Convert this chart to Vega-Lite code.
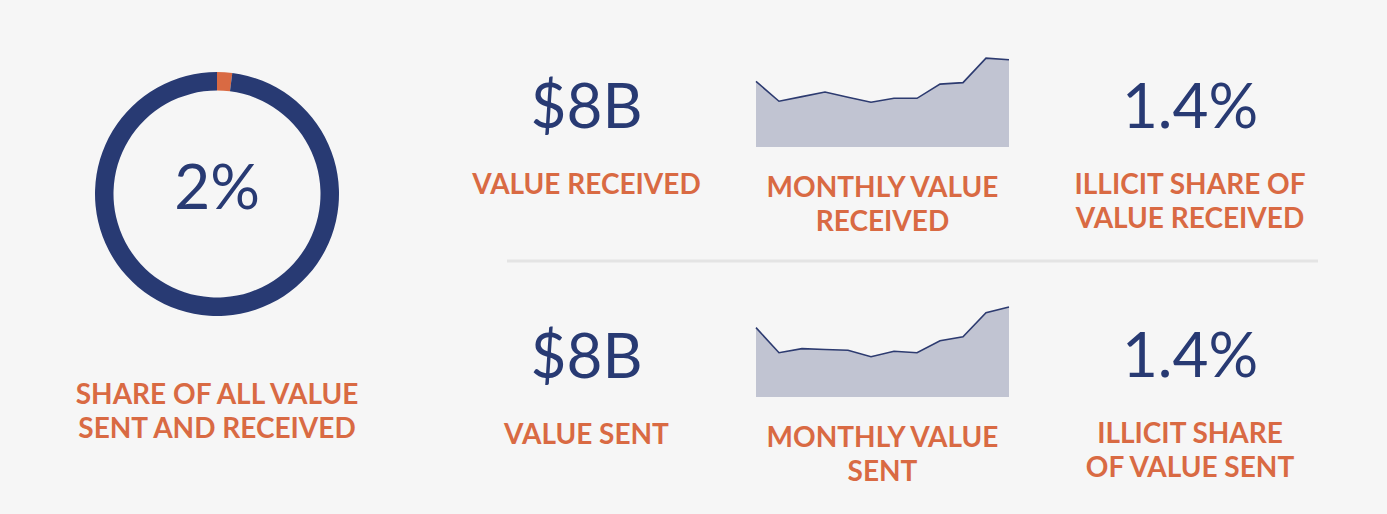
{
  "$schema": "https://vega.github.io/schema/vega-lite/v6.json",
  "background": "#f6f6f6",
  "padding": {"left": 67, "top": 54, "right": 68, "bottom": 34},
  "spacing": 102,
  "config": {
    "view": {"stroke": null},
    "title": {"font": "Lato", "fontSize": 28, "fontWeight": 700, "color": "#d96a43", "orient": "bottom", "lineHeight": 34, "frame": "group", "anchor": "middle", "baseline": "top"}
  },
  "hconcat": [
    {
      "width": 300,
      "height": 272,
      "title": {"text": ["SHARE OF ALL VALUE", "SENT AND RECEIVED"], "offset": 52},
      "layer": [
        {
          "data": {"values": [{"segment": "Illicit", "share": 2}, {"segment": "Other", "share": 98}]},
          "mark": {"type": "arc", "outerRadius": 122, "innerRadius": 103.5},
          "encoding": {
            "theta": {"field": "share", "type": "quantitative", "stack": true},
            "order": {"field": "share", "sort": "ascending"},
            "color": {"field": "segment", "type": "nominal", "scale": {"domain": ["Illicit", "Other"], "range": ["#d96a43", "#283a73"]}, "legend": null}
          }
        },
        {
          "data": {"values": [{"label": "2%"}]},
          "mark": {"type": "text", "font": "Lato", "fontSize": 62, "color": "#283a73", "baseline": "alphabetic", "dy": 15},
          "encoding": {"text": {"field": "label"}}
        }
      ]
    },
    {
      "spacing": 37,
      "vconcat": [
        {
          "spacing": 17,
          "vconcat": [
            {
              "spacing": 48,
              "hconcat": [
                {
                  "width": 235, "height": 89,
                  "title": {"text": "VALUE RECEIVED", "offset": 25},
                  "data": {"values": [{"label": "$8B"}]},
                  "mark": {"type": "text", "font": "Lato", "fontSize": 62, "color": "#283a73", "baseline": "alphabetic", "dy": 25},
                  "encoding": {"text": {"field": "label"}}
                },
                {
                  "width": 253, "height": 89,
                  "title": {"text": ["MONTHLY VALUE", "RECEIVED"], "offset": 28},
                  "data": {"values": [
                    {"month": 1, "value": 737}, {"month": 2, "value": 514}, {"month": 3, "value": 566}, {"month": 4, "value": 618},
                    {"month": 5, "value": 559}, {"month": 6, "value": 503}, {"month": 7, "value": 547}, {"month": 8, "value": 547},
                    {"month": 9, "value": 707}, {"month": 10, "value": 723}, {"month": 11, "value": 998}, {"month": 12, "value": 980}
                  ]},
                  "mark": {"type": "area", "color": "#c1c4d2", "opacity": 1, "line": {"color": "#2d3b70", "strokeWidth": 1.6}},
                  "encoding": {
                    "x": {"field": "month", "type": "quantitative", "axis": null, "scale": {"domain": [1, 12], "nice": false, "zero": false}},
                    "y": {"field": "value", "type": "quantitative", "axis": null, "scale": {"domain": [0, 1000], "nice": false}}
                  }
                },
                {
                  "width": 258, "height": 89,
                  "title": {"text": ["ILLICIT SHARE OF", "VALUE RECEIVED"], "offset": 25},
                  "data": {"values": [{"label": "1.4%"}]},
                  "mark": {"type": "text", "font": "Lato", "fontSize": 62, "color": "#283a73", "baseline": "alphabetic", "dy": 25},
                  "encoding": {"text": {"field": "label"}}
                }
              ]
            },
            {
              "spacing": 35,
              "hconcat": [
                {
                  "width": 1, "height": 1,
                  "data": {"values": [{"label": ""}]},
                  "mark": {"type": "text"},
                  "encoding": {"text": {"field": "label"}}
                },
                {
                  "width": 811, "height": 1,
                  "data": {"values": [{"v": 0}]},
                  "mark": {"type": "rule", "color": "#e4e4e4", "strokeWidth": 3},
                  "encoding": {"y": {"field": "v", "type": "quantitative", "axis": null, "scale": {"domain": [0, 1]}}}
                }
              ]
            }
          ]
        },
        {
          "spacing": 48,
          "hconcat": [
            {
              "width": 235, "height": 90,
              "title": {"text": "VALUE SENT", "offset": 25},
              "data": {"values": [{"label": "$8B"}]},
              "mark": {"type": "text", "font": "Lato", "fontSize": 62, "color": "#283a73", "baseline": "alphabetic", "dy": 26},
              "encoding": {"text": {"field": "label"}}
            },
            {
              "width": 253, "height": 90,
              "title": {"text": ["MONTHLY VALUE", "SENT"], "offset": 28},
              "data": {"values": [
                {"month": 1, "value": 819}, {"month": 2, "value": 523}, {"month": 3, "value": 571}, {"month": 4, "value": 561},
                {"month": 5, "value": 552}, {"month": 6, "value": 476}, {"month": 7, "value": 540}, {"month": 8, "value": 523},
                {"month": 9, "value": 665}, {"month": 10, "value": 712}, {"month": 11, "value": 996}, {"month": 12, "value": 1063}
              ]},
              "mark": {"type": "area", "color": "#c1c4d2", "opacity": 1, "line": {"color": "#2d3b70", "strokeWidth": 1.6}},
              "encoding": {
                "x": {"field": "month", "type": "quantitative", "axis": null, "scale": {"domain": [1, 12], "nice": false, "zero": false}},
                "y": {"field": "value", "type": "quantitative", "axis": null, "scale": {"domain": [0, 1063], "nice": false}}
              }
            },
            {
              "width": 258, "height": 90,
              "title": {"text": ["ILLICIT SHARE", "OF VALUE SENT"], "offset": 24},
              "data": {"values": [{"label": "1.4%"}]},
              "mark": {"type": "text", "font": "Lato", "fontSize": 62, "color": "#283a73", "baseline": "alphabetic", "dy": 25},
              "encoding": {"text": {"field": "label"}}
            }
          ]
        }
      ]
    }
  ]
}
